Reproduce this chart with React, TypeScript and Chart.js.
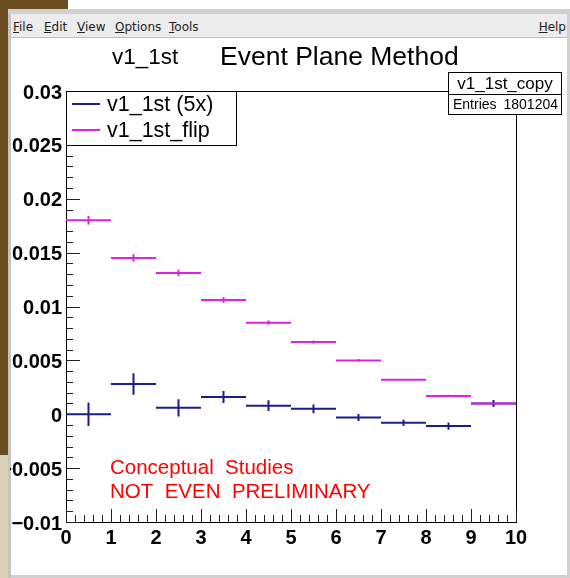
import React, { useEffect, useRef } from "react";
import { Chart, registerables } from "chart.js";

Chart.register(...registerables);

// ---- data ----
const binEdgesLow = [0, 1, 2, 3, 4, 5, 6, 7, 8, 9];
const binCenters = [0.5, 1.5, 2.5, 3.5, 4.5, 5.5, 6.5, 7.5, 8.5, 9.5];
const v1Values = [0.0, 0.0028, 0.0006, 0.0016, 0.0008, 0.0005, -0.0003, -0.0008, -0.0011, 0.001];
const v1Errors = [0.0011, 0.001, 0.0008, 0.00055, 0.0005, 0.0004, 0.00033, 0.00028, 0.00033, 0.00033];
const flipValues = [0.018, 0.0145, 0.0131, 0.0106, 0.0085, 0.0067, 0.005, 0.0032, 0.0017, 0.001];
const flipErrors = [0.0004, 0.00035, 0.0003, 0.00025, 0.0002, 0.00015, 0.00012, 0.0001, 0.0001, 0.0001];

const xTickValues = [0, 1, 2, 3, 4, 5, 6, 7, 8, 9, 10];
const xTickLabels = ["0", "1", "2", "3", "4", "5", "6", "7", "8", "9", "10"];
const yTickValues = [-0.01, -0.005, 0, 0.005, 0.01, 0.015, 0.02, 0.025, 0.03];
const yTickLabels = ["\u22120.01", "\u22120.005", "0", "0.005", "0.01", "0.015", "0.02", "0.025", "0.03"];
const yMinorStep = 0.001;
const xMinorStep = 0.2;

const seriesNames = ["v1_1st (5x)", "v1_1st_flip"];
const titleLeft = "v1_1st";
const titleMain = "Event Plane Method";
const statsName = "v1_1st_copy";
const statsLabel = "Entries";
const statsValue = "1801204";
const noteLines = ["Conceptual  Studies", "NOT  EVEN  PRELIMINARY"];
const menuLeft = ["File", "Edit", "View", "Options", "Tools"];
const menuRight = "Help";

const BLUE = "#1c1c8c";
const MAGENTA = "#dd22dd";
const FONT = "'Liberation Sans', Arial, Helvetica, sans-serif";

const rootPlugin = {
  id: "rootStyle",
  afterDatasetsDraw(chart: any) {
    const ctx = chart.ctx;
    const xs = chart.scales.x;
    const ys = chart.scales.y;
    const ca = chart.chartArea;
    ctx.save();
    // frame
    ctx.strokeStyle = "#000";
    ctx.lineWidth = 1;
    ctx.strokeRect(Math.round(ca.left) + 0.5, Math.round(ca.top) + 0.5, Math.round(ca.right - ca.left), Math.round(ca.bottom - ca.top));
    // y ticks (inward)
    ctx.strokeStyle = "#222";
    const yMin = ys.min, yMax = ys.max;
    const nMinY = Math.round((yMax - yMin) / yMinorStep);
    for (let i = 0; i <= nMinY; i++) {
      const v = yMin + i * yMinorStep;
      const major = i % 5 === 0;
      const y = Math.round(ys.getPixelForValue(v)) + 0.5;
      ctx.beginPath();
      ctx.moveTo(ca.left, y);
      ctx.lineTo(ca.left + (major ? 14 : 7), y);
      ctx.stroke();
    }
    const nMinX = Math.round((xs.max - xs.min) / xMinorStep);
    for (let i = 0; i <= nMinX; i++) {
      const v = xs.min + i * xMinorStep;
      const major = i % 5 === 0;
      const x = Math.round(xs.getPixelForValue(v)) + 0.5;
      ctx.beginPath();
      ctx.moveTo(x, ca.bottom);
      ctx.lineTo(x, ca.bottom - (major ? 13 : 7));
      ctx.stroke();
    }
    // error crosses
    chart.data.datasets.forEach((ds: any) => {
      ctx.strokeStyle = ds.borderColor;
      ctx.lineWidth = 2;
      ds.data.forEach((p: any, i: number) => {
        const x0 = xs.getPixelForValue(ds.binLow[i]);
        const x1 = xs.getPixelForValue(ds.binLow[i] + 1);
        const xc = xs.getPixelForValue(p.x);
        const y = ys.getPixelForValue(p.y);
        const ya = ys.getPixelForValue(p.y + ds.errors[i]);
        const yb = ys.getPixelForValue(p.y - ds.errors[i]);
        ctx.beginPath();
        ctx.moveTo(x0, y);
        ctx.lineTo(x1, y);
        ctx.moveTo(xc, ya);
        ctx.lineTo(xc, yb);
        ctx.stroke();
      });
    });
    // legend box
    ctx.fillStyle = "#fff";
    ctx.fillRect(66, 91, 170, 54);
    ctx.strokeStyle = "#000";
    ctx.lineWidth = 1;
    ctx.strokeRect(66.5, 91.5, 170, 54);
    const legY = [104, 130];
    chart.data.datasets.forEach((ds: any, i: number) => {
      ctx.strokeStyle = ds.borderColor;
      ctx.lineWidth = 2;
      ctx.beginPath();
      ctx.moveTo(72, legY[i]);
      ctx.lineTo(100, legY[i]);
      ctx.stroke();
      ctx.fillStyle = "#000";
      ctx.font = `21.5px ${FONT}`;
      ctx.textBaseline = "middle";
      ctx.textAlign = "left";
      ctx.fillText(ds.label, 107, legY[i] + 1);
    });
    // stats box
    ctx.fillStyle = "#fff";
    ctx.fillRect(448, 72, 113, 42);
    ctx.strokeStyle = "#000";
    ctx.lineWidth = 1;
    ctx.strokeRect(448.5, 72.5, 113, 42);
    ctx.beginPath();
    ctx.moveTo(448, 94.5);
    ctx.lineTo(561, 94.5);
    ctx.stroke();
    ctx.fillStyle = "#000";
    ctx.textBaseline = "middle";
    ctx.textAlign = "center";
    ctx.font = `17px ${FONT}`;
    ctx.fillText(statsName, 505, 84);
    ctx.font = `14px ${FONT}`;
    ctx.textAlign = "left";
    ctx.fillText(statsLabel, 453, 105);
    ctx.textAlign = "right";
    ctx.fillText(statsValue, 558, 105);
    // titles
    ctx.textAlign = "left";
    ctx.textBaseline = "alphabetic";
    ctx.font = `22.5px ${FONT}`;
    ctx.fillText(titleLeft, 112, 64);
    ctx.font = `26.5px ${FONT}`;
    ctx.fillText(titleMain, 220, 65);
    // note
    ctx.fillStyle = "#ff0000";
    ctx.font = `20.5px ${FONT}`;
    ctx.textBaseline = "middle";
    ctx.fillText(noteLines[0], 110, 468);
    ctx.fillText(noteLines[1], 110, 492);
    ctx.restore();
  },
};

export default function App() {
  const ref = useRef<HTMLCanvasElement | null>(null);
  useEffect(() => {
    if (!ref.current) return;
    const mk = (vals: number[]) => vals.map((v, i) => ({ x: binCenters[i], y: v }));
    const tickFont = { family: FONT, size: 20, weight: "bold" as const };
    const chart = new Chart(ref.current, {
      type: "scatter",
      data: {
        datasets: [
          { label: seriesNames[0], data: mk(v1Values), borderColor: BLUE, backgroundColor: BLUE, pointRadius: 0, showLine: false, errors: v1Errors, binLow: binEdgesLow } as any,
          { label: seriesNames[1], data: mk(flipValues), borderColor: MAGENTA, backgroundColor: MAGENTA, pointRadius: 0, showLine: false, errors: flipErrors, binLow: binEdgesLow } as any,
        ],
      },
      options: {
        responsive: false,
        animation: false,
        events: [],
        layout: { padding: { left: 10, right: 54, top: 91, bottom: 26 } },
        plugins: { legend: { display: false }, title: { display: false }, tooltip: { enabled: false } },
        scales: {
          x: {
            type: "linear",
            min: 0,
            max: 10,
            afterBuildTicks: (s: any) => { s.ticks = xTickValues.map((v) => ({ value: v })); },
            afterFit: (s: any) => { s.height = 30; },
            grid: { display: false, drawTicks: false },
            border: { display: false },
            ticks: {
              font: tickFont,
              color: "#000",
              padding: 4,
              maxRotation: 0,
              autoSkip: false,
              callback: (v: any) => xTickLabels[xTickValues.findIndex((t) => Math.abs(t - v) < 1e-9)] ?? "",
            },
          },
          y: {
            type: "linear",
            min: -0.01,
            max: 0.03,
            afterBuildTicks: (s: any) => { s.ticks = yTickValues.map((v) => ({ value: v })); },
            afterFit: (s: any) => { s.width = 56; },
            grid: { display: false, drawTicks: false },
            border: { display: false },
            ticks: {
              font: tickFont,
              color: "#000",
              padding: 4,
              labelOffset: 2,
              autoSkip: false,
              callback: (v: any) => yTickLabels[yTickValues.findIndex((t) => Math.abs(t - v) < 1e-9)] ?? "",
            },
          },
        },
      },
      plugins: [rootPlugin],
    });
    return () => chart.destroy();
  }, []);

  const menuPos = [13, 44, 77, 115, 169];
  return (
    <div style={{ position: "fixed", left: 0, top: 0, width: 570, height: 578, background: "#fff", overflow: "hidden" }}>
      <div style={{ position: "absolute", left: 0, top: 0, width: 68, height: 9, background: "#6b4e1f" }} />
      <div style={{ position: "absolute", left: 0, top: 0, width: 8, height: 455, background: "#6b4e1f" }} />
      <div style={{ position: "absolute", left: 0, top: 455, width: 8, height: 123, background: "#d8d1b3" }} />
      <div style={{ position: "absolute", left: 8, top: 9, width: 3, height: 569, background: "#c4c4c4" }} />
      <div style={{ position: "absolute", left: 567, top: 9, width: 3, height: 569, background: "#d0d0d0" }} />
      <div style={{ position: "absolute", left: 8, top: 9, width: 562, height: 5, background: "#d0d0d0" }} />
      <div style={{ position: "absolute", left: 11, top: 14, width: 556, height: 23, background: "#ececec", fontFamily: "'DejaVu Sans', sans-serif", fontSize: 12, color: "#222" }}>
        {menuLeft.map((m, i) => (
          <span key={m} style={{ position: "absolute", left: menuPos[i] - 11, top: 6 }}>
            <u>{m[0]}</u>{m.slice(1)}
          </span>
        ))}
        <span style={{ position: "absolute", right: 1, top: 6 }}>
          <u>{menuRight[0]}</u>{menuRight.slice(1)}
        </span>
      </div>
      <div style={{ position: "absolute", left: 11, top: 37, width: 556, height: 1, background: "#bdbdbd" }} />
      <div style={{ position: "absolute", left: 11, top: 575, width: 556, height: 3, background: "#d0d0d0" }} />
      <canvas ref={ref} width={570} height={578} style={{ position: "absolute", left: 0, top: 0, width: 570, height: 578 }} />
    </div>
  );
}
